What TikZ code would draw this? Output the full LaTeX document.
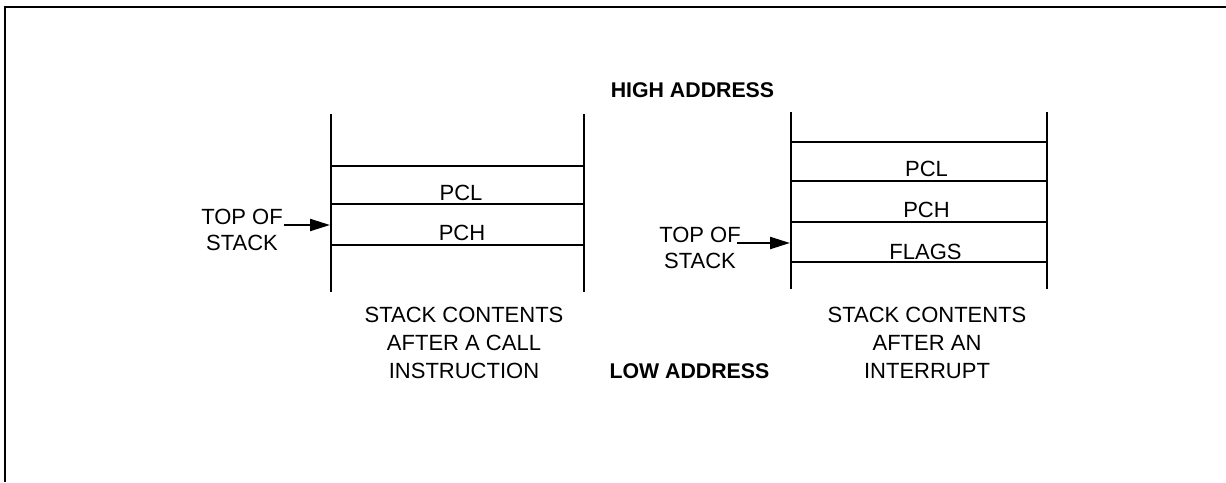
\documentclass[tikz,border=0pt]{standalone}
\usepackage{fontspec}
\setmainfont{Liberation Sans}
\usetikzlibrary{arrows.meta}
\begin{document}
\begin{tikzpicture}[x=1pt,y=-1pt,
  wall/.style={line width=2.2pt},
  lbl/.style={inner sep=0pt,font=\fontsize{22}{28}\selectfont},
  bold/.style={inner sep=0pt,font=\fontsize{21.3}{28}\selectfont\bfseries},
  multi/.style={inner sep=0pt,align=center,font=\fontsize{22}{28.2}\selectfont},
  tos/.style={inner sep=0pt,align=center,font=\fontsize{22}{26.8}\selectfont},
  ptr/.style={line width=2.2pt,-{Triangle[length=20pt,width=12pt]}}]
\useasboundingbox (0,0) rectangle (1226,482);
% frame
\draw[line width=2.2pt] (5,482) -- (5,7) -- (1226,7);
% left stack
\draw[wall] (331,114) -- (331,292);
\draw[wall] (584,114) -- (584,292);
\draw[wall] (331,166) -- (584,166);
\draw[wall] (331,204) -- (584,204);
\draw[wall] (331,245) -- (584,245);
\node[lbl,anchor=base] (pcl1) at (461,200) {PCL};
\node[lbl,anchor=base] (pch1) at (462,240) {PCH};
\node[tos,anchor=north] (tos1) at (242,208.5) {TOP OF\\STACK};
\coordinate (a1s) at (284,225);
\coordinate (a1e) at (330,225);
\draw[ptr] (a1s) -- (a1e);
\node[multi,anchor=north] (cap1) at (464,306.5) {STACK CONTENTS\\AFTER A CALL\\INSTRUCTION};
% right stack
\draw[wall] (791,112) -- (791,289);
\draw[wall] (1047,112) -- (1047,289);
\draw[wall] (791,142) -- (1047,142);
\draw[wall] (791,181) -- (1047,181);
\draw[wall] (791,222) -- (1047,222);
\draw[wall] (791,262) -- (1047,262);
\node[lbl,anchor=base] (pcl2) at (926.5,176) {PCL};
\node[lbl,anchor=base] (pch2) at (926.5,217) {PCH};
\node[lbl,anchor=base] (flg2) at (925.5,259) {FLAGS};
\node[tos,anchor=north] (tos2) at (700,226.5) {TOP OF\\STACK};
\coordinate (a2s) at (737,243);
\coordinate (a2e) at (790,243);
\draw[ptr] (a2s) -- (a2e);
\node[multi,anchor=north] (cap2) at (927,306.5) {STACK CONTENTS\\AFTER AN\\INTERRUPT};
% address labels
\node[bold,anchor=base] (high) at (692.5,97.7) {HIGH ADDRESS};
\node[bold,anchor=base] (low) at (689.5,378) {LOW ADDRESS};
\end{tikzpicture}
\end{document}
